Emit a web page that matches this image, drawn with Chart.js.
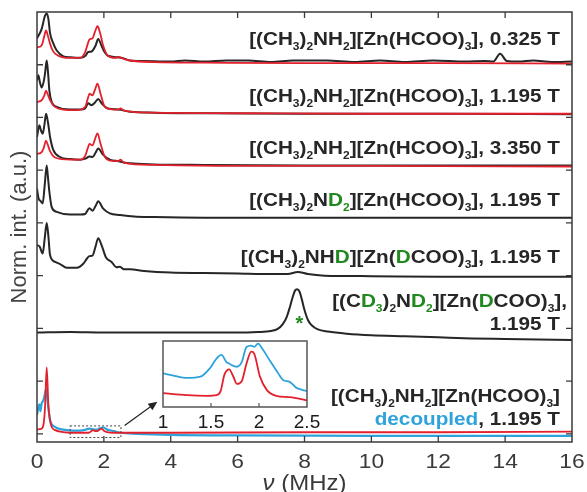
<!DOCTYPE html>
<html>
<head>
<meta charset="utf-8">
<script src="https://cdn.jsdelivr.net/npm/chart.js@4.4.1/dist/chart.umd.min.js"></script>
<style>
  html, body { margin: 0; padding: 0; background: #fff; }
  #wrap { position: relative; width: 587px; height: 492px; }
  #main { position: absolute; left: 0; top: 0; }
  #inset { position: absolute; left: 150px; top: 335px; }
</style>
</head>
<body>
<div id="wrap">
  <canvas id="main" width="587" height="492"></canvas>
  <canvas id="inset" width="180" height="100"></canvas>
</div>
<script>
// spectra, stacked (values already include the vertical offset of each trace)
const x1k = [0, 0.14, 0.24, 0.29, 0.34, 0.39, 0.49, 0.59, 0.79, 1.0, 1.29, 1.45, 1.53, 1.63, 1.75, 1.83, 1.93, 2.02, 2.12, 2.42, 2.55, 2.78, 3.2, 4, 4.43, 5, 5.67, 6.31, 7, 7.66, 8.66, 9.5, 10.26, 11, 11.85, 12.8, 13.4, 13.65, 13.85, 14.05, 14.4, 14.84, 15.4, 16];
const blk1 = [7.50, 7.68, 7.93, 7.97, 7.87, 7.60, 7.40, 7.27, 7.16, 7.14, 7.13, 7.17, 7.24, 7.25, 7.36, 7.49, 7.36, 7.24, 7.17, 7.14, 7.13, 7.08, 7.07, 7.06, 7.08, 7.06, 7.08, 7.08, 7.05, 7.08, 7.08, 7.05, 7.08, 7.05, 7.08, 7.06, 7.07, 7.06, 7.21, 7.07, 7.06, 7.08, 7.05, 7.06];
const x1r = [0, 0.08, 0.15, 0.22, 0.27, 0.32, 0.39, 0.46, 0.54, 0.78, 1.0, 1.29, 1.44, 1.52, 1.57, 1.66, 1.73, 1.81, 1.88, 1.98, 2.12, 2.35, 2.45, 2.55, 2.78, 3.5, 5, 8, 12, 16];
const red1 = [7.33, 7.34, 7.38, 7.55, 7.65, 7.56, 7.40, 7.28, 7.21, 7.14, 7.13, 7.13, 7.24, 7.40, 7.48, 7.50, 7.62, 7.73, 7.62, 7.36, 7.17, 7.13, 7.15, 7.12, 7.08, 7.05, 7.04, 7.03, 7.03, 7.02];

const x2k = [0, 0.04, 0.09, 0.14, 0.2, 0.24, 0.29, 0.33, 0.37, 0.44, 0.59, 0.99, 1.3, 1.44, 1.53, 1.63, 1.73, 1.83, 1.93, 2.12, 2.43, 2.78, 3.5, 5, 8, 12, 16];
const blk2 = [6.70, 6.80, 6.66, 6.57, 6.68, 6.83, 7.08, 6.85, 6.51, 6.29, 6.20, 6.15, 6.15, 6.17, 6.27, 6.23, 6.28, 6.35, 6.27, 6.17, 6.15, 6.11, 6.09, 6.08, 6.07, 6.07, 6.06];
const x2r = [0, 0.14, 0.22, 0.27, 0.32, 0.39, 0.54, 0.78, 1.2, 1.44, 1.52, 1.57, 1.66, 1.73, 1.81, 1.9, 2.03, 2.2, 2.43, 2.5, 2.6, 3.5, 6, 10, 16];
const red2 = [6.29, 6.33, 6.42, 6.51, 6.44, 6.33, 6.20, 6.15, 6.14, 6.20, 6.36, 6.45, 6.42, 6.52, 6.64, 6.45, 6.20, 6.16, 6.15, 6.17, 6.13, 6.09, 6.08, 6.07, 6.07];

const x3k = [0, 0.07, 0.12, 0.17, 0.22, 0.27, 0.33, 0.39, 0.49, 0.69, 1.0, 1.29, 1.45, 1.57, 1.66, 1.75, 1.83, 1.98, 2.18, 2.43, 2.78, 3.5, 5, 8, 12, 16];
const blk3 = [5.63, 5.85, 5.75, 5.69, 5.85, 6.07, 5.90, 5.63, 5.38, 5.25, 5.21, 5.20, 5.22, 5.26, 5.25, 5.33, 5.41, 5.29, 5.20, 5.17, 5.13, 5.11, 5.10, 5.09, 5.09, 5.09];
const x3r = [0, 0.12, 0.2, 0.27, 0.33, 0.39, 0.54, 1.0, 1.3, 1.44, 1.52, 1.57, 1.66, 1.73, 1.81, 1.9, 2.03, 2.2, 2.43, 2.5, 2.6, 3.5, 6, 10, 16];
const red3 = [5.31, 5.33, 5.42, 5.56, 5.47, 5.36, 5.24, 5.20, 5.20, 5.27, 5.42, 5.50, 5.47, 5.58, 5.70, 5.50, 5.25, 5.18, 5.17, 5.20, 5.14, 5.10, 5.08, 5.08, 5.07];

const x4k = [0, 0.05, 0.1, 0.17, 0.23, 0.29, 0.33, 0.37, 0.44, 0.59, 0.99, 1.3, 1.44, 1.57, 1.66, 1.75, 1.83, 1.98, 2.18, 2.48, 2.9, 3.5, 5, 8, 12, 16];
const blk4 = [4.65, 4.46, 4.42, 4.37, 4.71, 5.09, 4.85, 4.59, 4.30, 4.21, 4.16, 4.16, 4.17, 4.28, 4.23, 4.32, 4.41, 4.27, 4.18, 4.15, 4.12, 4.11, 4.10, 4.10, 4.10, 4.10];

const x5k = [0, 0.08, 0.17, 0.23, 0.29, 0.34, 0.39, 0.54, 0.69, 0.89, 1.19, 1.39, 1.5, 1.57, 1.66, 1.75, 1.83, 1.93, 2.06, 2.23, 2.38, 2.48, 2.6, 2.78, 3.2, 4, 5, 6, 7, 7.5, 7.8, 8.1, 8.6, 10, 12, 16];
const blk5 = [3.58, 3.55, 3.42, 3.70, 4.00, 3.75, 3.39, 3.26, 3.22, 3.15, 3.15, 3.23, 3.33, 3.37, 3.38, 3.55, 3.71, 3.58, 3.35, 3.26, 3.16, 3.17, 3.12, 3.12, 3.09, 3.06, 3.05, 3.04, 3.03, 3.03, 3.07, 3.03, 3.00, 2.99, 2.98, 2.98];

const x6k = [0, 1, 2, 3, 4, 5, 6, 6.6, 7.0, 7.2, 7.35, 7.47, 7.57, 7.65, 7.72, 7.78, 7.85, 7.92, 8.0, 8.11, 8.25, 8.4, 8.7, 9.26, 10, 11, 12, 13, 14, 15, 16];
const blk6 = [1.92, 1.93, 1.92, 1.92, 1.92, 1.92, 1.92, 1.93, 1.95, 1.99, 2.08, 2.22, 2.42, 2.60, 2.72, 2.74, 2.70, 2.55, 2.35, 2.15, 2.04, 1.98, 1.94, 1.90, 1.87, 1.85, 1.83, 1.81, 1.80, 1.79, 1.78];

const x7r = [0, 0.08, 0.14, 0.2, 0.24, 0.29, 0.34, 0.38, 0.44, 0.55, 0.69, 1.0, 1.3, 1.55, 1.62, 1.68, 1.75, 1.8, 1.87, 1.93, 2.0, 2.1, 2.3, 2.6, 4, 8, 12, 16];
const red7 = [0.08, 0.09, 0.10, 0.20, 0.50, 1.26, 0.55, 0.30, 0.13, 0.07, 0.04, 0.02, 0.02, 0.02, 0.05, 0.07, 0.05, 0.05, 0.08, 0.10, 0.06, 0.03, 0.02, 0.02, 0.02, 0.03, 0.03, 0.04];
const x7b = [0, 0.04, 0.07, 0.1, 0.14, 0.17, 0.22, 0.27, 0.32, 0.39, 0.54, 0.7, 0.89, 1.2, 1.4, 1.58, 1.7, 1.8, 1.9, 1.98, 2.1, 2.3, 2.5, 3, 4, 6, 10, 16];
const blue7 = [0.36, 0.50, 0.56, 0.43, 0.58, 0.61, 0.70, 0.85, 0.60, 0.26, 0.13, 0.09, 0.07, 0.06, 0.07, 0.10, 0.08, 0.08, 0.11, 0.12, 0.08, 0.05, 0.02, 0.00, -0.02, -0.03, -0.04, -0.04];

// inset: zoom of the decoupled spectrum, 1 - 2.5 MHz
const xInB = [1.0, 1.1, 1.25, 1.39, 1.49, 1.55, 1.58, 1.61, 1.66, 1.69, 1.72, 1.77, 1.82, 1.87, 1.92, 1.95, 1.99, 2.04, 2.11, 2.2, 2.25, 2.32, 2.39, 2.45, 2.5];
const blueIn = [0.51, 0.48, 0.44, 0.46, 0.59, 0.72, 0.77, 0.79, 0.68, 0.66, 0.63, 0.61, 0.68, 0.91, 0.93, 0.91, 0.96, 0.87, 0.71, 0.51, 0.41, 0.38, 0.29, 0.26, 0.24];
const xInR = [1.0, 1.25, 1.45, 1.56, 1.6, 1.64, 1.69, 1.73, 1.77, 1.82, 1.87, 1.92, 1.95, 2.01, 2.08, 2.18, 2.32, 2.5];
const redIn = [0.21, 0.18, 0.17, 0.18, 0.24, 0.49, 0.57, 0.47, 0.35, 0.39, 0.66, 0.84, 0.81, 0.46, 0.26, 0.17, 0.15, 0.10];

const xTicks = [0, 2, 4, 6, 8, 10, 12, 14, 16];
const yTicks = [0, 1, 2, 3, 4, 5, 6, 7, 8];

const BLACK = "#262626";
const RED = "#e3202b";
const BLUE = "#2ea3db";
const GREEN = "#21891f";
const FONT = '"Liberation Sans", Arial, sans-serif';
const SX = 1.09; // text in the figure is a bit wider than Arial

function line(xs, ys, color, order, w) {
    return {
        data: xs.map((x, i) => ({ x: x, y: ys[i] })),
        borderColor: color,
        borderWidth: w || 2,
        pointRadius: 0,
        fill: false,
        cubicInterpolationMode: "monotone",
        order: order
    };
}

// draws a run of segments [text, color, isSub] right aligned at xr
function richText(ctx, segs, xr, yb, size) {
    const big = "bold " + size + "px " + FONT;
    const small = "bold " + Math.round(size * 0.6) + "px " + FONT;
    let w = 0;
    segs.forEach(s => { ctx.font = s[2] ? small : big; w += ctx.measureText(s[0]).width; });
    ctx.save();
    ctx.translate(xr, yb);
    ctx.scale(SX, 1);
    ctx.textBaseline = "alphabetic";
    ctx.textAlign = "left";
    let x = -w;
    segs.forEach(s => {
        ctx.font = s[2] ? small : big;
        ctx.fillStyle = s[1];
        ctx.fillText(s[0], x, s[2] ? size * 0.25 : 0);
        x += ctx.measureText(s[0]).width;
    });
    ctx.restore();
}

const K = BLACK, G = GREEN;
const labels = [
    { y: 45, x: 560, segs: [["[(CH", K], ["3", K, 1], [")", K], ["2", K, 1], ["NH", K], ["2", K, 1], ["][Zn(HCOO)", K], ["3", K, 1], ["], 0.325 T", K]] },
    { y: 102, x: 560, segs: [["[(CH", K], ["3", K, 1], [")", K], ["2", K, 1], ["NH", K], ["2", K, 1], ["][Zn(HCOO)", K], ["3", K, 1], ["], 1.195 T", K]] },
    { y: 154, x: 560, segs: [["[(CH", K], ["3", K, 1], [")", K], ["2", K, 1], ["NH", K], ["2", K, 1], ["][Zn(HCOO)", K], ["3", K, 1], ["], 3.350 T", K]] },
    { y: 206, x: 560, segs: [["[(CH", K], ["3", K, 1], [")", K], ["2", K, 1], ["N", K], ["D", G], ["2", G, 1], ["][Zn(HCOO)", K], ["3", K, 1], ["], 1.195 T", K]] },
    { y: 263, x: 560, segs: [["[(CH", K], ["3", K, 1], [")", K], ["2", K, 1], ["NH", K], ["D", G], ["][Zn(", K], ["D", G], ["COO)", K], ["3", K, 1], ["], 1.195 T", K]] },
    { y: 307, x: 567, segs: [["[(C", K], ["D", G], ["3", G, 1], [")", K], ["2", K, 1], ["N", K], ["D", G], ["2", G, 1], ["][Zn(", K], ["D", G], ["COO)", K], ["3", K, 1], ["],", K]] },
    { y: 330, x: 560, segs: [["1.195 T", K]] },
    { y: 402, x: 560, segs: [["[(CH", K], ["3", K, 1], [")", K], ["2", K, 1], ["NH", K], ["2", K, 1], ["][Zn(HCOO)", K], ["3", K, 1], ["]", K]] },
    { y: 425, x: 560, segs: [["decoupled", BLUE], [", 1.195 T", K]] }
];

const decor = {
    id: "decor",
    afterDatasetsDraw(chart) {
        const { ctx, chartArea: a, scales: { x, y } } = chart;
        ctx.save();
        // frame
        ctx.strokeStyle = "#3a3a3a";
        ctx.lineWidth = 1.5;
        ctx.strokeRect(a.left, a.top, a.width, a.height);
        // inward ticks
        ctx.lineWidth = 1.3;
        ctx.beginPath();
        xTicks.slice(1, -1).forEach(v => {
            const px = x.getPixelForValue(v);
            ctx.moveTo(px, a.bottom); ctx.lineTo(px, a.bottom - 6);
            ctx.moveTo(px, a.top); ctx.lineTo(px, a.top + 6);
        });
        yTicks.slice(0, -1).forEach(v => {
            const py = y.getPixelForValue(v);
            ctx.moveTo(a.left, py); ctx.lineTo(a.left + 6, py);
            ctx.moveTo(a.right, py); ctx.lineTo(a.right - 6, py);
        });
        ctx.stroke();
        // dotted zoom box
        ctx.strokeStyle = "#444";
        ctx.lineWidth = 1;
        ctx.setLineDash([2, 2]);
        const bx0 = x.getPixelForValue(0.99), bx1 = x.getPixelForValue(2.51);
        const by0 = y.getPixelForValue(0.15), by1 = y.getPixelForValue(-0.07);
        ctx.strokeRect(bx0, by0, bx1 - bx0, by1 - by0);
        ctx.setLineDash([]);
        // arrow to inset
        const ax0 = x.getPixelForValue(2.62), ay0 = y.getPixelForValue(0.16);
        const ax1 = x.getPixelForValue(3.6), ay1 = y.getPixelForValue(0.61);
        const ang = Math.atan2(ay1 - ay0, ax1 - ax0);
        ctx.strokeStyle = "#222";
        ctx.fillStyle = "#222";
        ctx.lineWidth = 1.2;
        ctx.beginPath();
        ctx.moveTo(ax0, ay0);
        ctx.lineTo(ax1 - 6 * Math.cos(ang), ay1 - 6 * Math.sin(ang));
        ctx.stroke();
        ctx.beginPath();
        ctx.moveTo(ax1, ay1);
        ctx.lineTo(ax1 - 9 * Math.cos(ang) + 4 * Math.sin(ang), ay1 - 9 * Math.sin(ang) - 4 * Math.cos(ang));
        ctx.lineTo(ax1 - 9 * Math.cos(ang) - 4 * Math.sin(ang), ay1 - 9 * Math.sin(ang) + 4 * Math.cos(ang));
        ctx.closePath();
        ctx.fill();
        ctx.restore();
    },
    afterDraw(chart) {
        const { ctx, chartArea: a, scales: { x } } = chart;
        ctx.save();
        // x tick labels
        ctx.fillStyle = "#3a3a3a";
        ctx.textAlign = "center";
        ctx.textBaseline = "alphabetic";
        xTicks.forEach(v => {
            ctx.save();
            ctx.translate(x.getPixelForValue(v), 468);
            ctx.scale(1.14, 1);
            ctx.font = "20px " + FONT;
            ctx.fillText(String(v), 0, 0);
            ctx.restore();
        });
        // x title with italic nu
        ctx.font = "italic 22px " + FONT;
        const wNu = ctx.measureText("ν").width;
        ctx.font = "22px " + FONT;
        const wRest = ctx.measureText(" (MHz)").width;
        const cx = (a.left + a.right) / 2;
        ctx.save();
        ctx.translate(cx, 490);
        ctx.scale(SX, 1);
        ctx.textAlign = "left";
        ctx.font = "italic 22px " + FONT;
        ctx.fillText("ν", -(wNu + wRest) / 2, 0);
        ctx.font = "22px " + FONT;
        ctx.fillText(" (MHz)", -(wNu + wRest) / 2 + wNu, 0);
        ctx.restore();
        // y title
        ctx.save();
        ctx.translate(20, (a.top + a.bottom) / 2);
        ctx.rotate(-Math.PI / 2);
        ctx.font = "22px " + FONT;
        ctx.fillStyle = "#444";
        ctx.textAlign = "center";
        ctx.textBaseline = "middle";
        ctx.fillText("Norm. int. (a.u.)", 0, 0);
        ctx.restore();
        // trace labels
        labels.forEach(l => richText(ctx, l.segs, l.x, l.y, 19));
        // asterisk marking the peak
        ctx.fillStyle = GREEN;
        ctx.font = "bold 20px " + FONT;
        ctx.textAlign = "center";
        ctx.fillText("*", chart.scales.x.getPixelForValue(7.85), chart.scales.y.getPixelForValue(2.12) + 8);
        ctx.restore();
    }
};

new Chart(document.getElementById("main").getContext("2d"), {
    type: "line",
    data: {
        datasets: [
            line(x1r, red1, RED, 1, 1.8), line(x1k, blk1, BLACK, 2),
            line(x2r, red2, RED, 1, 1.8), line(x2k, blk2, BLACK, 2),
            line(x3r, red3, RED, 1, 1.8), line(x3k, blk3, BLACK, 2),
            line(x4k, blk4, BLACK, 2),
            line(x5k, blk5, BLACK, 2),
            line(x6k, blk6, BLACK, 2),
            line(x7r, red7, RED, 1, 1.8), line(x7b, blue7, BLUE, 2, 2.2)
        ]
    },
    options: {
        responsive: false,
        animation: false,
        layout: { padding: { left: 37, right: 15, top: 12, bottom: 0 } },
        plugins: { legend: { display: false }, tooltip: { enabled: false } },
        scales: {
            x: {
                type: "linear", min: 0, max: 16,
                ticks: { display: false, stepSize: 2 },
                grid: { display: false, drawTicks: false },
                border: { display: false },
                afterFit: s => { s.height = 50; }
            },
            y: {
                type: "linear", min: -0.155, max: 8.0, display: false
            }
        }
    },
    plugins: [decor]
});

const insetFrame = {
    id: "insetFrame",
    beforeDatasetsDraw(chart) {
        const { ctx, chartArea: a } = chart;
        ctx.save();
        ctx.fillStyle = "#fff";
        ctx.fillRect(a.left, a.top, a.width, a.height);
        ctx.restore();
    },
    afterDatasetsDraw(chart) {
        const { ctx, chartArea: a, scales: { x } } = chart;
        ctx.save();
        ctx.strokeStyle = "#555";
        ctx.lineWidth = 1.5;
        ctx.strokeRect(a.left, a.top, a.width, a.height);
        ctx.lineWidth = 1.2;
        ctx.beginPath();
        [1.5, 2].forEach(v => {
            const px = x.getPixelForValue(v);
            ctx.moveTo(px, a.bottom); ctx.lineTo(px, a.bottom - 4);
        });
        ctx.stroke();
        ctx.restore();
    }
};

new Chart(document.getElementById("inset").getContext("2d"), {
    type: "line",
    data: {
        datasets: [
            line(xInR, redIn, RED, 1, 1.8),
            line(xInB, blueIn, BLUE, 2, 1.8)
        ]
    },
    options: {
        responsive: false,
        animation: false,
        layout: { padding: { left: 13, right: 23, top: 6, bottom: 0 } },
        plugins: { legend: { display: false }, tooltip: { enabled: false } },
        scales: {
            x: {
                type: "linear", min: 1, max: 2.5,
                ticks: { stepSize: 0.5, color: "#1a1a1a", font: { family: FONT, size: 19 }, padding: 4, maxRotation: 0, callback: v => String(v) },
                grid: { display: false, drawTicks: false },
                border: { display: false },
                afterFit: s => { s.height = 28; }
            },
            y: { type: "linear", min: 0, max: 1, display: false }
        }
    },
    plugins: [insetFrame]
});
</script>
</body>
</html>
